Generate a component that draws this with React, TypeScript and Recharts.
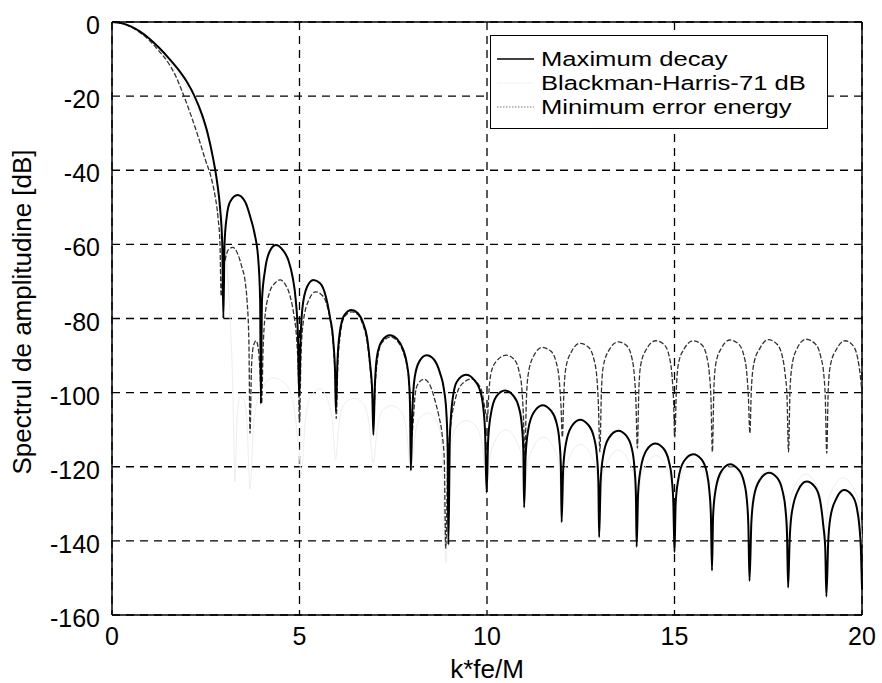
import React from 'react';
import { LineChart, Line, XAxis, YAxis, CartesianGrid, ReferenceLine, Legend, Label } from 'recharts';

// [k*fe/M, dB]
const maxDecay = [
  [0, 0], [0.25, -0.3], [0.5, -1.2], [0.75, -2.6], [1, -4.5], [1.25, -6.9], [1.5, -9.6], [1.75, -12.6],
  [2, -16.2], [2.2, -20], [2.4, -25], [2.55, -30], [2.7, -37], [2.8, -43], [2.88, -50], [2.94, -60], [2.97, -80],
  [3.0, -60], [3.06, -52.5], [3.15, -48.5], [3.35, -46.7], [3.55, -48.5], [3.7, -53], [3.8, -57], [3.9, -64], [3.95, -75], [3.97, -103],
  [4.0, -75], [4.08, -67], [4.2, -62], [4.37, -60.2], [4.55, -61.5], [4.7, -64.2], [4.82, -69], [4.9, -75], [4.96, -85], [4.99, -101],
  [5.03, -85], [5.08, -77], [5.2, -71.5], [5.37, -69.6], [5.55, -70.5], [5.7, -74], [5.81, -79.5], [5.9, -86], [5.95, -95], [5.97, -105],
  [6.01, -92], [6.07, -84], [6.2, -79], [6.39, -77.7], [6.55, -78.5], [6.7, -81.3], [6.8, -85], [6.88, -92], [6.94, -100], [6.97, -111.4],
  [7.01, -98], [7.07, -90], [7.2, -86], [7.41, -84.5], [7.6, -85.5], [7.77, -88.5], [7.86, -92], [7.92, -97], [7.95, -105], [7.97, -121],
  [8.01, -105], [8.07, -96], [8.2, -91.5], [8.39, -89.9], [8.58, -91], [8.75, -94.8], [8.85, -99], [8.92, -106], [8.95, -115], [8.97, -141],
  [9.01, -112], [9.08, -102], [9.2, -97], [9.44, -95.2], [9.65, -96.5], [9.8, -99], [9.9, -104], [9.95, -111], [9.99, -127],
  [10.03, -113], [10.1, -106], [10.25, -101], [10.48, -99.4], [10.7, -100.8], [10.85, -104], [10.93, -109], [10.97, -116], [10.99, -131],
  [11.03, -117], [11.1, -110], [11.25, -105.3], [11.48, -103.4], [11.7, -104.8], [11.85, -108], [11.93, -113], [11.97, -120], [11.99, -135],
  [12.03, -121], [12.1, -114], [12.25, -109.2], [12.48, -107.3], [12.7, -108.7], [12.85, -112], [12.93, -117], [12.97, -124], [12.99, -139],
  [13.03, -124], [13.1, -117], [13.25, -112.2], [13.5, -110.3], [13.72, -111.7], [13.86, -115], [13.93, -120], [13.97, -127], [13.99, -141.6],
  [14.03, -127], [14.1, -120.5], [14.25, -115.6], [14.48, -113.7], [14.7, -115], [14.85, -118.5], [14.93, -123.5], [14.97, -130], [15, -143],
  [15.03, -130], [15.1, -123.5], [15.25, -118.5], [15.5, -116.6], [15.72, -118], [15.86, -121.5], [15.93, -126.5], [15.97, -133], [16, -148],
  [16.03, -133], [16.1, -126], [16.25, -121.2], [16.48, -119.3], [16.7, -120.7], [16.85, -124], [16.93, -129], [16.97, -136], [17, -150.8],
  [17.05, -135], [17.12, -128], [17.28, -123.5], [17.52, -121.6], [17.74, -123], [17.88, -126.5], [17.96, -131.5], [18.0, -138], [18.03, -152.6],
  [18.07, -140], [18.12, -133], [18.3, -126.3], [18.52, -124], [18.75, -125.5], [18.88, -129], [18.97, -136], [19.02, -142], [19.05, -155],
  [19.1, -140], [19.16, -133.5], [19.32, -128.5], [19.52, -126.3], [19.74, -127.8], [19.86, -131], [19.93, -136], [19.97, -142], [20, -153],
];

const blackmanHarris = [
  [0, 0], [0.5, -1.3], [1, -4.7], [1.5, -10.2], [2, -17.6], [2.25, -22.8], [2.5, -29.5], [2.7, -37], [2.85, -45],
  [2.95, -53], [3.05, -64], [3.15, -80], [3.22, -98], [3.28, -124],
  [3.34, -106], [3.42, -101], [3.52, -102], [3.6, -108], [3.68, -126],
  [3.78, -108], [3.95, -100], [4.3, -96], [4.65, -98], [4.85, -104], [4.97, -114], [5.05, -122],
  [5.15, -108], [5.3, -101], [5.55, -99], [5.75, -102], [5.88, -108], [5.96, -118],
  [6.06, -108], [6.2, -103], [6.45, -101.5], [6.7, -103], [6.85, -108], [6.97, -119],
  [7.07, -110], [7.2, -105], [7.45, -103.5], [7.7, -105], [7.85, -110], [7.97, -121],
  [8.07, -112], [8.2, -107], [8.42, -105.5], [8.62, -107], [8.78, -112], [8.9, -146],
  [9.02, -115], [9.2, -109], [9.45, -107.5], [9.7, -109], [9.87, -114], [9.99, -125],
  [10.1, -116], [10.5, -110], [10.9, -116], [11.0, -128],
  [11.1, -118], [11.5, -112], [11.9, -118], [12.0, -130],
  [12.1, -120], [12.5, -114], [12.9, -120], [13.0, -132],
  [13.1, -121.5], [13.5, -115.5], [13.9, -121.5], [14.0, -134],
  [14.1, -123], [14.5, -117], [14.9, -123], [15.0, -136],
  [15.1, -124.5], [15.5, -118.5], [15.9, -124.5], [16.0, -137],
  [16.1, -126], [16.5, -120], [16.9, -126], [17.0, -138],
  [17.1, -127], [17.5, -121], [17.9, -127], [18.0, -139],
  [18.1, -128], [18.5, -122], [18.9, -128], [19.0, -140],
  [19.1, -129], [19.5, -123], [19.9, -129], [20.0, -141],
];

const minErrorEnergy = [
  [0, 0], [0.25, -0.35], [0.5, -1.3], [0.75, -2.9], [1, -5], [1.25, -7.8], [1.5, -11], [1.7, -14.6], [1.9, -19.5],
  [2.1, -25], [2.3, -31], [2.5, -37.5], [2.64, -41.8], [2.75, -47], [2.83, -53], [2.88, -60], [2.91, -74],
  [2.95, -68], [3.02, -64], [3.1, -61.5], [3.22, -60.8], [3.35, -62.5], [3.46, -66], [3.55, -70], [3.6, -75], [3.65, -86], [3.68, -111],
  [3.72, -93], [3.77, -87.5], [3.84, -86], [3.9, -88], [3.95, -95], [3.99, -103],
  [4.03, -88], [4.08, -79.5], [4.2, -73], [4.34, -70.5], [4.48, -69.6], [4.62, -70.8], [4.75, -74], [4.85, -79], [4.92, -85], [4.97, -95], [5.0, -108],
  [5.04, -90], [5.1, -81], [5.25, -75], [5.43, -72.8], [5.58, -73.5], [5.72, -76], [5.83, -81], [5.9, -87], [5.95, -96], [5.98, -107],
  [6.02, -93], [6.08, -85], [6.2, -79.5], [6.4, -78.2], [6.56, -79], [6.7, -82], [6.8, -86], [6.88, -93], [6.94, -100], [6.98, -106],
  [7.02, -98], [7.08, -91], [7.2, -86.5], [7.43, -85], [7.62, -86.2], [7.78, -89.5], [7.87, -93], [7.93, -98], [7.96, -104], [7.99, -112],
  [8.03, -108], [8.08, -101], [8.15, -97.8], [8.32, -96.4], [8.48, -98], [8.61, -102], [8.72, -106.5], [8.8, -111], [8.86, -118], [8.9, -142],
  [8.95, -120], [9.02, -110], [9.15, -102], [9.35, -97.5], [9.59, -96.3], [9.75, -97.5], [9.87, -100], [9.94, -104], [10.01, -107],
  [10.05, -100], [10.1, -95], [10.25, -91.5], [10.52, -89.9], [10.72, -91], [10.85, -94], [10.93, -99], [10.97, -106], [11.01, -117],
  [11.05, -102], [11.1, -95], [11.25, -90], [11.47, -87.8], [11.7, -88.8], [11.85, -92], [11.93, -97], [11.97, -103], [12.01, -112],
  [12.05, -100], [12.1, -93.5], [12.25, -89], [12.48, -86.7], [12.7, -87.7], [12.85, -91], [12.93, -96], [12.97, -103], [13.01, -116],
  [13.05, -100], [13.1, -93], [13.25, -88.6], [13.5, -86.3], [13.72, -87.3], [13.86, -90.5], [13.93, -95.5], [13.97, -102], [14.01, -115],
  [14.05, -99], [14.1, -92.5], [14.25, -88.3], [14.5, -86], [14.72, -87], [14.86, -90.3], [14.93, -95], [14.97, -101], [15.01, -112],
  [15.05, -99], [15.1, -92.5], [15.25, -88.3], [15.5, -86], [15.72, -87], [15.86, -90.3], [15.93, -95], [15.97, -101], [16.01, -116],
  [16.05, -99], [16.1, -92.3], [16.25, -88], [16.48, -85.8], [16.7, -86.8], [16.85, -90], [16.93, -95], [16.97, -101], [17.01, -111],
  [17.05, -99], [17.12, -92], [17.28, -88], [17.5, -85.7], [17.72, -86.8], [17.87, -90], [17.95, -95], [18.0, -101], [18.04, -116],
  [18.08, -99.5], [18.13, -93], [18.25, -88.5], [18.5, -85.6], [18.75, -86.8], [18.9, -90.3], [18.98, -95], [19.02, -101], [19.06, -116.4],
  [19.1, -99], [19.16, -92.5], [19.32, -88.3], [19.55, -86], [19.75, -87.2], [19.88, -90.5], [19.95, -95], [20.0, -100],
];

const xTicks = [0, 5, 10, 15, 20];
const yTicks = [0, -20, -40, -60, -80, -100, -120, -140, -160];
const seriesNames = ['Maximum decay', 'Blackman-Harris-71 dB', 'Minimum error energy'];

const FONT = '"Liberation Sans", Arial, Helvetica, sans-serif';

const toRows = (pts) => pts.map(([k, db]) => ({ k, db }));

const XTick = ({ x, y, payload }) => (
  <text x={x} y={y} dy={18} textAnchor="middle" fontFamily={FONT} fontSize={25} fill="#000">
    {payload.value}
  </text>
);

const YTick = ({ x, y, payload }) => (
  <text x={x} y={y} dy={12} textAnchor="end" fontFamily={FONT} fontSize={25} fill="#000">
    {payload.value}
  </text>
);

const legendLines = [
  { stroke: '#000', width: 1.5, dash: undefined },
  { stroke: '#f2f2f2', width: 1, dash: undefined },
  { stroke: '#777', width: 1, dash: '1.5 1.5' },
];

const LegendBox = () => (
  <div
    style={{
      boxSizing: 'border-box', width: 338, height: 94, border: '1.5px solid #000', background: '#fff',
      paddingTop: 11, fontFamily: FONT, fontSize: 20.5, lineHeight: '24px', color: '#000',
    }}
  >
    {seriesNames.map((name, i) => (
      <div key={name} style={{ display: 'flex', alignItems: 'center', height: 24, whiteSpace: 'nowrap' }}>
        <svg width={50} height={22} style={{ flex: 'none' }}>
          <line
            x1={6} x2={43} y1={11} y2={11}
            stroke={legendLines[i].stroke}
            strokeWidth={legendLines[i].width}
            strokeDasharray={legendLines[i].dash}
          />
        </svg>
        <span style={{ display: 'inline-block', transform: 'scaleX(1.25)', transformOrigin: '0 50%' }}>{name}</span>
      </div>
    ))}
  </div>
);

const App = () => (
  <div style={{ position: 'absolute', left: 0, top: 0, width: 882, height: 683, background: '#fff' }}>
    <LineChart width={882} height={683} margin={{ top: 22, right: 20, bottom: 0, left: 0 }}>
      <CartesianGrid stroke="#000" strokeWidth={1.3} strokeDasharray="8 6" />
      <XAxis
        type="number" dataKey="k" domain={[0, 20]} ticks={xTicks} height={68}
        axisLine={{ stroke: '#000', strokeWidth: 1.5 }} tickLine={false} tickSize={0} tickMargin={12}
        tick={XTick}
      >
        <Label
          content={({ viewBox }) => (
            <text x={viewBox.x + viewBox.width / 2} y={viewBox.y + 63} textAnchor="middle" fontFamily={FONT} fontSize={26} fill="#000">
              k*fe/M
            </text>
          )}
        />
      </XAxis>
      <YAxis
        type="number" domain={[-160, 0]} ticks={yTicks} width={112}
        axisLine={{ stroke: '#000', strokeWidth: 1.5 }} tickLine={false} tickSize={0} tickMargin={12}
        tick={YTick}
      >
        <Label
          content={() => (
            <text x={0} y={0} transform="translate(31, 312) rotate(-90)" textAnchor="middle" fontFamily={FONT} fontSize={26} fill="#000">
              Spectrul de amplitudine [dB]
            </text>
          )}
        />
      </YAxis>
      <ReferenceLine y={0} stroke="#000" strokeWidth={1.5} />
      <ReferenceLine x={20} stroke="#000" strokeWidth={1.5} />
      <Line
        data={toRows(blackmanHarris)} dataKey="db" name={seriesNames[1]} type="monotone"
        stroke="#eeeeee" strokeWidth={1} dot={false} activeDot={false} isAnimationActive={false}
      />
      <Line
        data={toRows(minErrorEnergy)} dataKey="db" name={seriesNames[2]} type="monotone"
        stroke="#333" strokeWidth={1.3} strokeDasharray="5 2" dot={false} activeDot={false} isAnimationActive={false}
      />
      <Line
        data={toRows(maxDecay)} dataKey="db" name={seriesNames[0]} type="monotone"
        stroke="#000" strokeWidth={2} dot={false} activeDot={false} isAnimationActive={false}
      />
      <Legend
        layout="horizontal" verticalAlign="middle" align="center"
        wrapperStyle={{ left: 490, top: 35, width: 338, height: 94 }}
        content={LegendBox}
      />
    </LineChart>
  </div>
);

export default App;
